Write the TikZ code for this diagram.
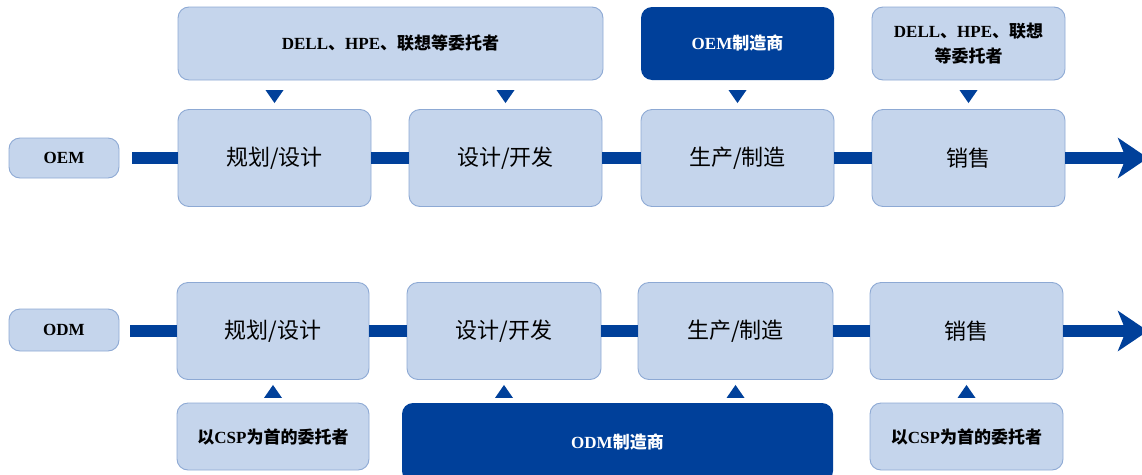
\documentclass[tikz,border=0pt]{standalone}
\usepackage{fontspec}
\setmainfont{Liberation Serif}
\newfontfamily\cjk{Noto Sans CJK SC}
\usetikzlibrary{arrows.meta,calc}
\definecolor{lb}{HTML}{C5D5EC}
\definecolor{bd}{HTML}{8DA9D4}
\definecolor{db}{HTML}{00409A}
\newcommand\zh[1]{{\cjk #1}}
\begin{document}
\begin{tikzpicture}[x=1pt,y=-1pt,
  box/.style={draw=bd,fill=lb,line width=0.9pt,rounded corners=11pt,inner sep=0pt,align=center},
  dbox/.style={fill=db,rounded corners=11pt,inner sep=0pt,align=center,text=white},
  mainbox/.style={box,minimum width=193pt,minimum height=97pt,font=\fontsize{22}{24}\selectfont\cjk},
  smalltxt/.style={font=\fontsize{17}{25}\selectfont\bfseries},
  bar/.style={draw=db,line width=12pt},
  head/.style={-{Stealth[length=30pt,width=40pt,inset=8pt]}},
  tri/.style={fill=db}]
\clip (0,0) rectangle (1142,474);
% ---------- OEM row ----------
\node[box,smalltxt,minimum width=110pt,minimum height=40pt] (oem) at (64,158) {OEM};
\node[mainbox] (m1) at (274.5,158) {规划/设计};
\node[mainbox] (m2) at (505.5,158) {设计/开发};
\node[mainbox] (m3) at (737.5,158) {生产/制造};
\node[mainbox] (m4) at (968.5,158) {销售};
\node[box,smalltxt,minimum width=425pt,minimum height=73pt] (t1) at (390.5,43.5) {DELL\zh{、}HPE\zh{、联想等委托者}};
\node[dbox,smalltxt,minimum width=193pt,minimum height=73pt] (t2) at (737.5,43.5) {OEM\zh{制造商}};
\node[box,smalltxt,minimum width=193pt,minimum height=73pt] (t3) at (968.5,43.5) {DELL\zh{、}HPE\zh{、联想}\\\zh{等委托者}};
\coordinate (sa) at (132,158);
\coordinate (ea) at (1148,158);
\draw[bar] (sa) -- (m1.west);
\draw[bar] (m1.east) -- (m2.west);
\draw[bar] (m2.east) -- (m3.west);
\draw[bar] (m3.east) -- (m4.west);
\draw[bar,head] (m4.east) -- (ea);
\foreach \n in {m1,m2,m3,m4}
  \fill[tri] ($(\n.north)+(-9,-19)$) -- ($(\n.north)+(9,-19)$) -- ($(\n.north)+(0,-6)$) -- cycle;
% ---------- ODM row ----------
\node[box,smalltxt,minimum width=110pt,minimum height=42pt] (odm) at (64,330) {ODM};
\node[mainbox,minimum width=192pt] (b1) at (273,331) {规划/设计};
\node[mainbox,minimum width=194pt] (b2) at (504,331) {设计/开发};
\node[mainbox,minimum width=195pt] (b3) at (735.5,331) {生产/制造};
\node[mainbox,minimum width=193pt] (b4) at (966.5,331) {销售};
\node[box,smalltxt,minimum width=192pt,minimum height=67pt] (c1) at (273,436.5) {\zh{以}CSP\zh{为首的委托者}};
\node[dbox,smalltxt,minimum width=431pt,minimum height=79pt] (c2) at (617.5,442.5) {ODM\zh{制造商}};
\node[box,smalltxt,minimum width=193pt,minimum height=67pt] (c3) at (966.5,436.5) {\zh{以}CSP\zh{为首的委托者}};
\coordinate (sb) at (130,331);
\coordinate (eb) at (1148,331);
\draw[bar] (sb) -- (b1.west);
\draw[bar] (b1.east) -- (b2.west);
\draw[bar] (b2.east) -- (b3.west);
\draw[bar] (b3.east) -- (b4.west);
\draw[bar,head] (b4.east) -- (eb);
\foreach \n in {b1,b2,b3,b4}
  \fill[tri] ($(\n.south)+(-9,18)$) -- ($(\n.south)+(9,18)$) -- ($(\n.south)+(0,5)$) -- cycle;
\end{tikzpicture}
\end{document}
